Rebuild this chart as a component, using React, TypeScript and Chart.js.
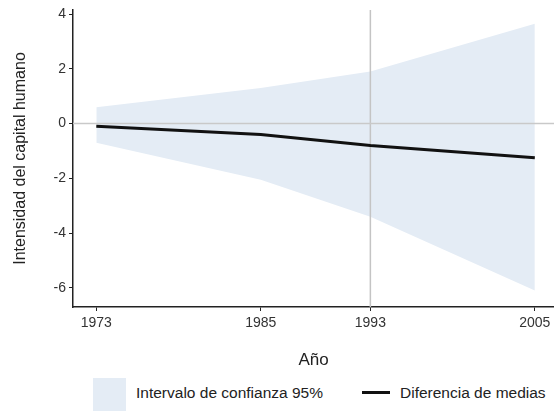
import React, { useEffect, useRef } from "react";
import { Chart, registerables } from "chart.js";

Chart.register(...registerables);

// Survey years and estimated difference of means with its 95% confidence band
const years = [1973, 1985, 1993, 2005];
const meanDiff = [-0.1, -0.4, -0.8, -1.25];
const ciLower = [-0.7, -2.05, -3.4, -6.1];
const ciUpper = [0.6, 1.3, 1.9, 3.65];

const xTicks = [1973, 1985, 1993, 2005];
const yTicks = [-6, -4, -2, 0, 2, 4];
const xRange = [1971.3, 2006.4];
const yRange = [-6.7, 4.15];
const markerYear = 1993;

const FONT = "'Liberation Sans', Arial, Helvetica, sans-serif";
const BAND = "#e4ecf5";

const W = 554;
const H = 411;
const CANVAS_H = 372;

export default function App() {
  const ref = useRef<HTMLCanvasElement | null>(null);

  useEffect(() => {
    const canvas = ref.current;
    if (!canvas) return;
    const pts = (ys: number[]) => years.map((x, i) => ({ x, y: ys[i] }));

    const chart = new Chart(canvas, {
      type: "line",
      data: {
        datasets: [
          {
            label: "Diferencia de medias",
            data: pts(meanDiff),
            borderColor: "#111",
            borderWidth: 3,
            pointRadius: 0,
            fill: false,
            tension: 0,
          },
          {
            label: "cero",
            data: [
              { x: xRange[0], y: 0 },
              { x: xRange[1], y: 0 },
            ],
            borderColor: "#c9c9c9",
            borderWidth: 1.5,
            pointRadius: 0,
            fill: false,
          },
          {
            label: "1993",
            data: [
              { x: markerYear, y: yRange[0] },
              { x: markerYear, y: yRange[1] },
            ],
            borderColor: "#c4c4c4",
            borderWidth: 1.5,
            pointRadius: 0,
            fill: false,
          },
          {
            label: "lower",
            data: pts(ciLower),
            borderWidth: 0,
            borderColor: "rgba(0,0,0,0)",
            pointRadius: 0,
            fill: false,
          },
          {
            label: "Intervalo de confianza 95%",
            data: pts(ciUpper),
            borderWidth: 0,
            borderColor: "rgba(0,0,0,0)",
            backgroundColor: BAND,
            pointRadius: 0,
            fill: 3,
          },
        ],
      },
      options: {
        animation: false,
        responsive: false,
        maintainAspectRatio: false,
        layout: { padding: { top: 10, right: 0, bottom: 0, left: 0 } },
        plugins: {
          legend: { display: false },
          tooltip: { enabled: false },
        },
        scales: {
          x: {
            type: "linear",
            min: xRange[0],
            max: xRange[1],
            afterBuildTicks: (s: any) => {
              s.ticks = xTicks.map((v) => ({ value: v }));
            },
            afterFit: (s: any) => {
              s.height = CANVAS_H - 307;
              s.paddingLeft = 0;
              s.paddingRight = 0;
            },
            ticks: {
              color: "#333",
              font: { family: FONT, size: 14 },
              padding: 4,
              maxRotation: 0,
              callback: (v: any) => String(v),
            },
            grid: {
              display: true,
              drawOnChartArea: false,
              drawTicks: true,
              tickLength: 4,
              color: "#222",
            },
            border: { display: true, color: "#222", width: 1.5 },
            title: {
              display: true,
              text: "Año",
              color: "#222",
              font: { family: FONT, size: 17 },
              padding: { top: 0, bottom: 1 },
            },
          },
          y: {
            type: "linear",
            min: yRange[0],
            max: yRange[1],
            afterBuildTicks: (s: any) => {
              s.ticks = yTicks.map((v) => ({ value: v }));
            },
            afterFit: (s: any) => {
              s.width = 73;
              s.paddingTop = 0;
              s.paddingBottom = 0;
            },
            ticks: {
              color: "#333",
              font: { family: FONT, size: 14 },
              padding: 3,
              callback: (v: any) => String(v),
            },
            grid: {
              display: true,
              drawOnChartArea: false,
              drawTicks: true,
              tickLength: 4,
              color: "#222",
            },
            border: { display: true, color: "#222", width: 1.5 },
            title: {
              display: true,
              text: "Intensidad del capital humano",
              color: "#222",
              font: { family: FONT, size: 16 },
              padding: { top: 10.5, bottom: 0 },
            },
          },
        },
      },
    });
    return () => chart.destroy();
  }, []);

  const text: React.CSSProperties = {
    position: "absolute",
    fontFamily: FONT,
    fontSize: 15.5,
    color: "#222",
    lineHeight: "18px",
    whiteSpace: "nowrap",
  };

  return (
    <div
      style={{
        position: "fixed",
        left: 0,
        top: 0,
        width: W,
        height: H,
        overflow: "hidden",
        background: "#fff",
      }}
    >
      <canvas ref={ref} width={W} height={CANVAS_H} style={{ position: "absolute", left: 0, top: 0, width: W, height: CANVAS_H }} />
      <div style={{ position: "absolute", left: 93, top: 378, width: 33, height: 40, background: BAND }} />
      <div style={{ ...text, left: 136, top: 384 }}>Intervalo de confianza 95%</div>
      <div style={{ position: "absolute", left: 362, top: 391, width: 28, height: 3, background: "#111" }} />
      <div style={{ ...text, left: 400, top: 384 }}>Diferencia de medias</div>
    </div>
  );
}
